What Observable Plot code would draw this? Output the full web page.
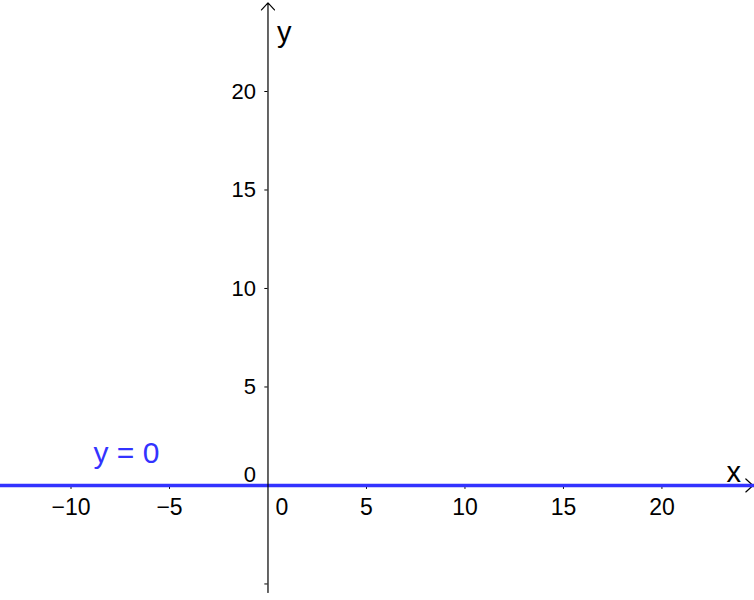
<!DOCTYPE html>
<html>
<head>
<meta charset="utf-8">
<script src="https://cdn.jsdelivr.net/npm/d3@7"></script>
<script src="https://cdn.jsdelivr.net/npm/@observablehq/plot@0.6"></script>
<style>
  html, body { margin: 0; padding: 0; background: #fff; }
  svg { display: block; }
</style>
</head>
<body>
<div id="chart"></div>
<script>
// ---- data ----
const xDomain = [-13.58, 24.70];
const yDomain = [-5.84, 24.62];
const xTicks = [-10, -5, 5, 10, 15, 20];
const xTickLabels = ["\u221210", "\u22125", "5", "10", "15", "20"];
const yTicks = [-5, 5, 10, 15, 20];
const yTickLabelValues = [5, 10, 15, 20];
const yTickLabels = ["5", "10", "15", "20"];
const lineValues = [0];
const lineLabel = "y = 0";
const lineLabelX = -8.86;
const xAxisEnds = [-13.58, 24.62];
const yAxisEnds = [-5.43, 24.5];
const xTickLen = 0.2;
const yTickLen = 0.16;

const font = "'Liberation Sans', Arial, sans-serif";
const blue = "#3333ff";

const chart = Plot.plot({
  width: 754,
  height: 600,
  marginTop: 0, marginBottom: 0, marginLeft: 0, marginRight: 0,
  x: { domain: xDomain, axis: null },
  y: { domain: yDomain, axis: null },
  style: { fontFamily: font, background: "#fff" },
  marks: [
    // x axis
    Plot.arrow([0], { x1: xAxisEnds[0], x2: xAxisEnds[1], y1: 0, y2: 0, stroke: "black", strokeWidth: 1.2, headLength: 12, headAngle: 85 }),
    // x ticks
    Plot.ruleX(xTicks, { x: d => d, y1: 0, y2: -xTickLen, stroke: "black", strokeWidth: 1 }),
    // y ticks
    Plot.ruleY(yTicks, { y: d => d, x1: 0, x2: -yTickLen, stroke: "black", strokeWidth: 1 }),
    // blue line y = 0
    Plot.ruleY(lineValues, { y: d => d, stroke: blue, strokeWidth: 3.5 }),
    // y axis
    Plot.arrow([0], { x1: 0, x2: 0, y1: yAxisEnds[0], y2: yAxisEnds[1], stroke: "black", strokeWidth: 1.2, headLength: 12, headAngle: 85 }),
    // x tick labels
    Plot.text(xTicks, { x: d => d, y: 0, text: (d, i) => xTickLabels[i], dy: 13, lineAnchor: "top", textAnchor: "middle", fontSize: 23, fill: "black" }),
    // y tick labels
    Plot.text(yTickLabelValues, { y: d => d, x: 0, text: (d, i) => yTickLabels[i], dx: -12, lineAnchor: "middle", textAnchor: "end", fontSize: 22, fill: "black" }),
    // origin labels
    Plot.text([0], { x: 0, y: 0, text: ["0"], dx: 14, dy: 13, lineAnchor: "top", textAnchor: "middle", fontSize: 23, fill: "black" }),
    Plot.text([0], { x: 0, y: 0, text: ["0"], dx: -12, dy: -3, lineAnchor: "bottom", textAnchor: "end", fontSize: 22, fill: "black" }),
    // axis names
    Plot.text(["y"], { x: 0, frameAnchor: "top", text: d => d, dx: 9, dy: 41, lineAnchor: "bottom", textAnchor: "start", fontSize: 29, fill: "black" }),
    Plot.text(["x"], { y: 0, frameAnchor: "right", text: d => d, dx: -28, dy: -3, lineAnchor: "bottom", textAnchor: "start", fontSize: 29, fill: "black" }),
    // line label
    Plot.text([lineLabel], { x: lineLabelX, y: 0, text: d => d, dy: -22, lineAnchor: "bottom", textAnchor: "start", fontSize: 30, fill: blue })
  ]
});
document.getElementById("chart").appendChild(chart);
</script>
</body>
</html>
